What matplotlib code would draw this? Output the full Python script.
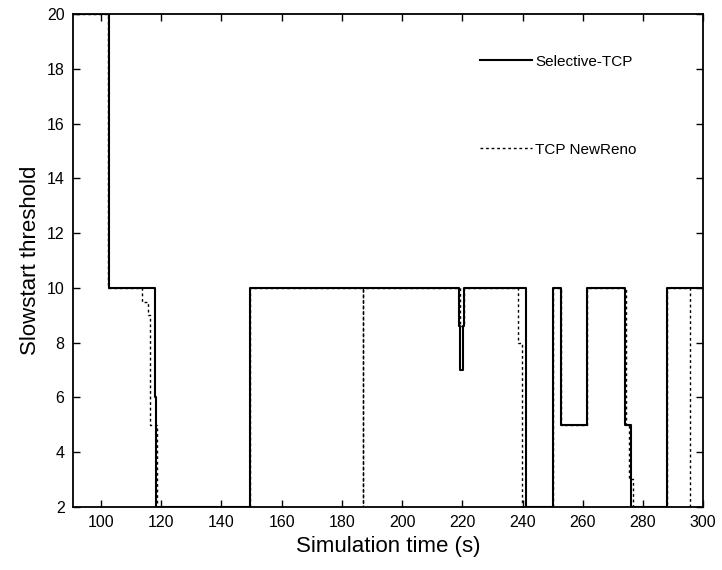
import matplotlib
matplotlib.use("Agg")
import matplotlib.pyplot as plt

plt.rcParams['font.family'] = ['Liberation Sans', 'DejaVu Sans']

# Selective-TCP slowstart threshold (step changes, value holds until next time)
sel_time = [90, 102.8, 117.8, 118.3, 149.6, 219.0, 219.3, 220.2, 220.6,
            241.3, 250.2, 252.7, 261.5, 274.1, 276.0, 288.0, 300]
sel_thresh = [20, 10, 6, 2, 10, 8.6, 7, 8.6, 10,
              2, 10, 5, 10, 5, 2, 10, 10]

# TCP NewReno slowstart threshold
reno_time = [90, 102.3, 113.6, 115.5, 116.3, 118.5, 149.6, 186.9, 187.0,
             219.2, 220.4, 238.5, 239.8, 250.2, 252.7, 261.5, 274.5, 275.5,
             276.8, 288.0, 295.7, 300]
reno_thresh = [20, 10, 9.5, 9, 5, 2, 10, 2, 10,
               8.6, 10, 8, 2, 10, 5, 10, 5, 3,
               2, 10, 2, 2]

x_ticks = list(range(100, 301, 20))
y_ticks = list(range(2, 21, 2))

fig = plt.figure(figsize=(7.22, 5.70), dpi=100)
ax = fig.add_axes([0.101, 0.111, 0.873, 0.864])

ax.plot(sel_time, sel_thresh, drawstyle='steps-post', color='black',
        linewidth=1.5, label='Selective-TCP')
ax.plot(reno_time, reno_thresh, drawstyle='steps-post', color='black',
        linewidth=1.0, linestyle=(0, (2, 2)), label='TCP NewReno')

ax.set_xlim(90.7, 300)
ax.set_ylim(2, 20)
ax.set_xticks(x_ticks)
ax.set_yticks(y_ticks)
ax.tick_params(direction='in', top=True, right=True, length=5, width=1,
               labelsize=11.5, pad=6)
for s in ax.spines.values():
    s.set_linewidth(1.3)

ax.set_xlabel('Simulation time (s)', fontsize=16, labelpad=4)
ax.set_ylabel('Slowstart threshold', fontsize=16, labelpad=4)

leg = ax.legend(loc='upper left', bbox_to_anchor=(0.646, 0.918), frameon=False,
                fontsize=11, handlelength=3.4, handletextpad=0.2,
                labelspacing=4.85, borderpad=0, borderaxespad=0)

fig.savefig('out.png', dpi=100)
